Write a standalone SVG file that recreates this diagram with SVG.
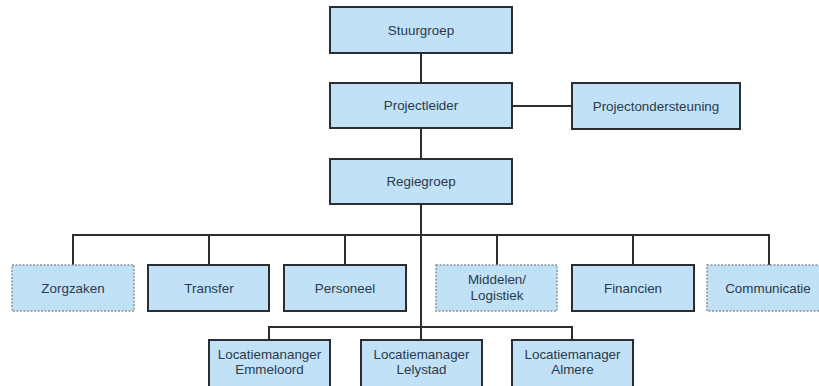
<svg xmlns="http://www.w3.org/2000/svg" width="819" height="386" viewBox="0 0 819 386">
  <style>
    .box { fill: #c0e1f6; stroke: #2a2e33; stroke-width: 2; }
    .dotted { fill: #c0e1f6; stroke: #8a9299; stroke-width: 1.5; stroke-dasharray: 2 1.5; }
    .lbl { font-family: "Liberation Sans", Arial, sans-serif; font-size: 13.4px; fill: #2c3a4b; text-anchor: middle; }
    .wire { stroke: #2a2e33; stroke-width: 2; fill: none; }
  </style>
  <rect width="819" height="386" fill="#ffffff"/>

  <g id="connectors">
    <line class="wire" x1="421" y1="53" x2="421" y2="83"/>
    <line class="wire" x1="421" y1="128" x2="421" y2="159"/>
    <line class="wire" x1="512" y1="106" x2="572" y2="106"/>
    <line class="wire" x1="421" y1="204" x2="421" y2="327"/>
    <polyline class="wire" points="73,265 73,235 769,235 769,265"/>
    <line class="wire" x1="209" y1="235" x2="209" y2="265"/>
    <line class="wire" x1="345" y1="235" x2="345" y2="265"/>
    <line class="wire" x1="497" y1="235" x2="497" y2="265"/>
    <line class="wire" x1="633" y1="235" x2="633" y2="265"/>
    <polyline class="wire" points="269,340 269,327 572,327 572,340"/>
    <line class="wire" x1="421" y1="327" x2="421" y2="340"/>
  </g>

  <g id="stuurgroep">
    <rect class="box" x="330" y="7" width="182" height="46"/>
    <text class="lbl" x="421" y="34.5">Stuurgroep</text>
  </g>
  <g id="projectleider">
    <rect class="box" x="330" y="83" width="182" height="45"/>
    <text class="lbl" x="421" y="110">Projectleider</text>
  </g>
  <g id="projectondersteuning">
    <rect class="box" x="572" y="83" width="168" height="46"/>
    <text class="lbl" x="656" y="110.5">Projectondersteuning</text>
  </g>
  <g id="regiegroep">
    <rect class="box" x="330" y="159" width="182" height="45"/>
    <text class="lbl" x="421" y="186">Regiegroep</text>
  </g>

  <g id="zorgzaken">
    <rect class="dotted" x="12" y="265" width="122" height="46"/>
    <text class="lbl" x="73" y="292.5">Zorgzaken</text>
  </g>
  <g id="transfer">
    <rect class="box" x="148" y="265" width="121" height="46"/>
    <text class="lbl" x="209" y="292.5">Transfer</text>
  </g>
  <g id="personeel">
    <rect class="box" x="284" y="265" width="122" height="46"/>
    <text class="lbl" x="345" y="292.5">Personeel</text>
  </g>
  <g id="middelen-logistiek">
    <rect class="dotted" x="436" y="265" width="121" height="46"/>
    <text class="lbl" x="497" y="284">Middelen/</text>
    <text class="lbl" x="497" y="300">Logistiek</text>
  </g>
  <g id="financien">
    <rect class="box" x="572" y="265" width="122" height="46"/>
    <text class="lbl" x="633" y="292.5">Financien</text>
  </g>
  <g id="communicatie">
    <rect class="dotted" x="707" y="265" width="124" height="46"/>
    <text class="lbl" x="768" y="292.5">Communicatie</text>
  </g>

  <g id="locatie-emmeloord">
    <rect class="box" x="209" y="340" width="121" height="50"/>
    <text class="lbl" x="269.5" y="358.5">Locatiemananger</text>
    <text class="lbl" x="269.5" y="374">Emmeloord</text>
  </g>
  <g id="locatie-lelystad">
    <rect class="box" x="361" y="340" width="121" height="50"/>
    <text class="lbl" x="421.5" y="358.5">Locatiemanager</text>
    <text class="lbl" x="421.5" y="374">Lelystad</text>
  </g>
  <g id="locatie-almere">
    <rect class="box" x="512" y="340" width="121" height="50"/>
    <text class="lbl" x="572.5" y="358.5">Locatiemanager</text>
    <text class="lbl" x="572.5" y="374">Almere</text>
  </g>
</svg>
